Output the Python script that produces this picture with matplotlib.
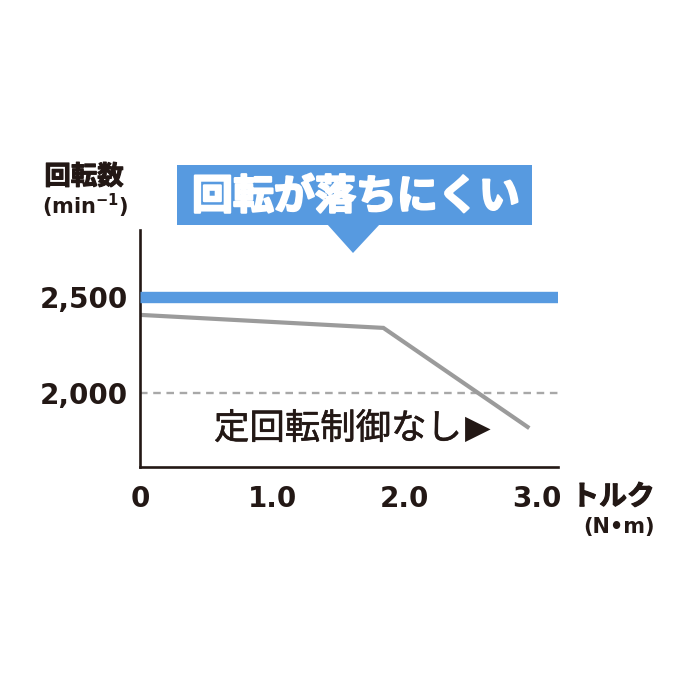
import matplotlib
matplotlib.use("Agg")
import matplotlib.pyplot as plt
from matplotlib.patches import Polygon, Rectangle
import matplotlib.patheffects as pe

plt.rcParams['font.family'] = ['Noto Sans CJK JP', 'DejaVu Sans']
plt.rcParams['mathtext.default'] = 'regular'

# data
TORQUE_TICKS = [0, 1, 2, 3]
TORQUE_LABELS = ["0", "1.0", "2.0", "3.0"]
RPM_TICKS = [2000, 2500]
RPM_LABELS = ["2,000", "2,500"]

const_x = [0, 3.16]
const_y = [2500, 2500]

nocontrol_x = [0, 1.84, 2.93]
nocontrol_y = [2409, 2341, 1824]

INK = "#231815"
BLUE = "#579ae0"
GRAY = "#9b9b9b"
NUMFONT = ['DejaVu Sans']

W = H = 700


def fx(px):
    return px / W


def fy(py):
    return 1 - py / H


fig = plt.figure(figsize=(7, 7), dpi=100)
ax = fig.add_axes([fx(140), fy(467), fx(558) - fx(140), fy(230) - fy(467)])

ax.plot(const_x, const_y, color=BLUE, lw=8.2, solid_capstyle='butt', zorder=3)
ax.plot(nocontrol_x, nocontrol_y, color=GRAY, lw=3.0, solid_joinstyle='miter', zorder=2)
ax.axhline(2000, color="#a8a8a8", lw=1.7, linestyle=(0, (3.2, 2.4)), zorder=1)

ax.set_xlim(0, 3.16)
ax.set_ylim(1615, 2852)
for s in ["top", "right"]:
    ax.spines[s].set_visible(False)
for s in ["left", "bottom"]:
    ax.spines[s].set_linewidth(1.9)
    ax.spines[s].set_color(INK)

ax.set_xticks(TORQUE_TICKS)
ax.set_xticklabels(TORQUE_LABELS, fontsize=20, fontweight='bold', color=INK, family=NUMFONT)
ax.set_yticks(RPM_TICKS)
ax.set_yticklabels(RPM_LABELS, fontsize=20, fontweight='bold', color=INK, family=NUMFONT)
ax.tick_params(axis='x', length=0, pad=13)
ax.tick_params(axis='y', length=0, pad=9)

thick = [pe.withStroke(linewidth=0.8, foreground=INK)]

# axis titles
fig.text(fx(84), fy(177), "回転数", fontsize=19, fontweight='bold', color=INK,
         ha='center', va='center', path_effects=thick)
fig.text(fx(85), fy(206), "(min$^{-1}$)", fontsize=15, fontweight='bold', color=INK,
         ha='center', va='center', family=NUMFONT)
fig.text(fx(613), fy(497), "トルク", fontsize=20, fontweight='bold', color=INK,
         ha='center', va='center', path_effects=thick)
fig.text(fx(619), fy(527), "(N•m)", fontsize=15, fontweight='bold', color=INK,
         ha='center', va='center', family=NUMFONT)

# callout
fig.patches.append(Rectangle((fx(177), fy(225)), fx(532) - fx(177), fy(165) - fy(225),
                             transform=fig.transFigure, facecolor=BLUE, edgecolor='none'))
fig.patches.append(Polygon([(fx(327), fy(224)), (fx(380), fy(224)), (fx(353), fy(253))],
                           closed=True, transform=fig.transFigure, facecolor=BLUE,
                           edgecolor='none'))
fig.text(fx(356), fy(197), "回転が落ちにくい", fontsize=29.5, fontweight='bold', color='white',
         ha='center', va='center',
         path_effects=[pe.withStroke(linewidth=1.6, foreground='white')])

# annotation
fig.text(fx(214), fy(429), "定回転制御なし", fontsize=25.5, color=INK,
         ha='left', va='center', path_effects=[pe.withStroke(linewidth=0.4, foreground=INK)])
fig.text(fx(478), fy(428), "▶", fontsize=24, color=INK, ha='center', va='center',
         family=['DejaVu Sans'])

fig.savefig("out.png", dpi=100, facecolor='white')
